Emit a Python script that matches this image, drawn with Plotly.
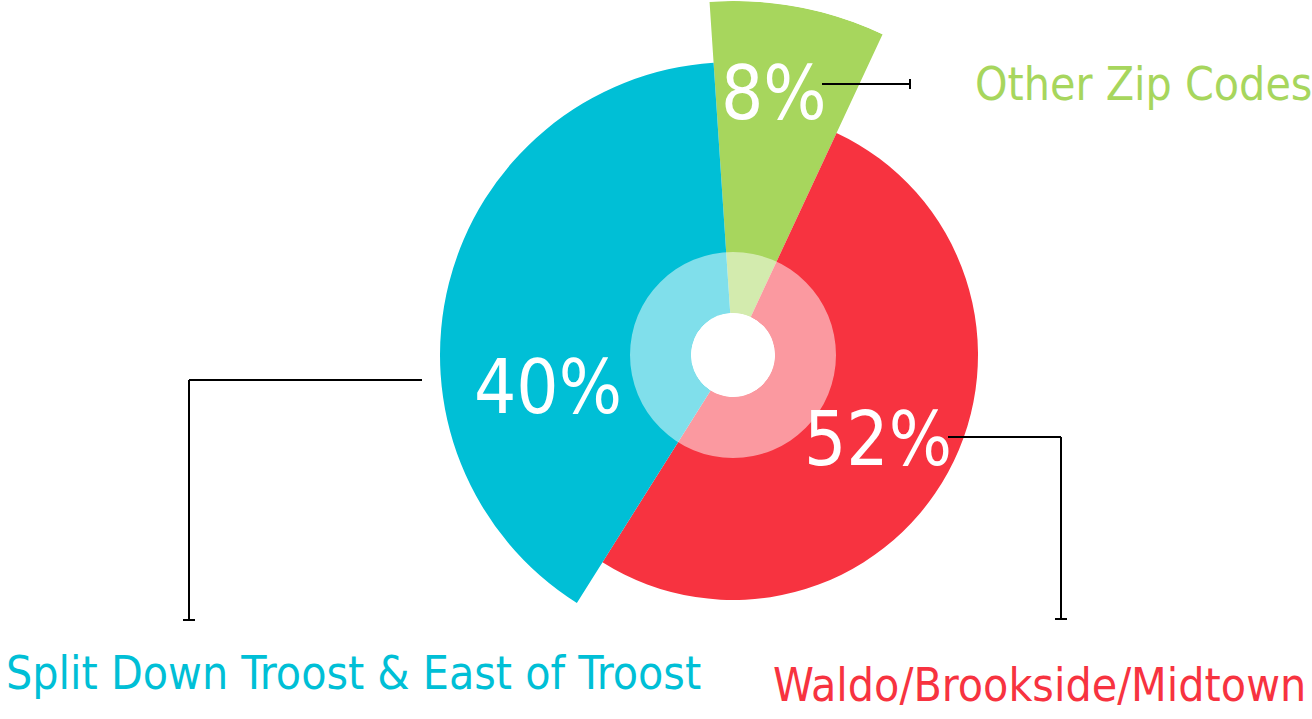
import plotly.graph_objects as go

# ---- data ----
categories = ["Other Zip Codes", "Waldo/Brookside/Midtown", "Split Down Troost & East of Troost"]
percent_values = [8, 52, 40]
pct_labels = ["8%", "52%", "40%"]

# ---- styling ----
colors = ["#a7d65d", "#f73340", "#00bfd6"]
outer_radius_px = [354, 245, 293]   # visual radius of each slice
hole_px = 42
ring_px = 103
start_angle = -3.8  # degrees clockwise from top

W, H = 1312, 719
cx, cy, R = 733, 355, 354

thetas, widths = [], []
acc = start_angle
for v in percent_values:
    w = v / 100 * 360
    thetas.append(acc + w / 2)
    widths.append(w)
    acc += w

fig = go.Figure()
for cat, th, w, rpx, col in zip(categories, thetas, widths, outer_radius_px, colors):
    fig.add_trace(go.Barpolar(
        theta=[th], width=[w], r=[rpx - hole_px], name=cat,
        marker=dict(color=col, line=dict(width=0)), hoverinfo="name",
    ))
# translucent ring
fig.add_trace(go.Barpolar(
    theta=[180], width=[360], r=[ring_px - hole_px], base=0,
    marker=dict(color="rgba(255,255,255,0.5)", line=dict(width=0)), hoverinfo="skip",
))

def px(x):
    return x / W

def py(y):
    return 1 - y / H

fig.update_layout(
    width=W, height=H,
    margin=dict(l=0, r=0, t=0, b=0),
    paper_bgcolor="white",
    showlegend=False,
    polar=dict(
        domain=dict(x=[px(cx - R), px(cx + R)], y=[py(cy + R), py(cy - R)]),
        hole=hole_px / R,
        bgcolor="rgba(0,0,0,0)",
        angularaxis=dict(visible=False, direction="clockwise", rotation=90),
        radialaxis=dict(visible=False, range=[0, R - hole_px]),
        barmode="overlay",
    ),
)

FONT = "Liberation Sans Narrow, DejaVu Sans Condensed, Roboto Condensed, Liberation Sans, sans-serif"

# percentage labels
pct_pos = [(774, 93), (878, 439), (548, 387)]
for lab, (x, y) in zip(pct_labels, pct_pos):
    fig.add_annotation(x=px(x), y=py(y), xref="paper", yref="paper", text=lab,
                       showarrow=False, xanchor="center", yanchor="middle",
                       font=dict(family=FONT, size=74, color="white", weight=300))

# category labels
cat_pos = [(973, 84, "left"), (1308, 685, "right"), (4, 673, "left")]
for cat, col, (x, y, anc) in zip(categories, colors, cat_pos):
    fig.add_annotation(x=px(x), y=py(y), xref="paper", yref="paper", text=cat,
                       showarrow=False, xanchor=anc, yanchor="middle",
                       font=dict(family=FONT, size=46, color=col, weight=300))

# connectors
segments = [
    ((822, 84), (910, 84)), ((910, 79), (910, 89)),
    ((948, 437), (1061, 437)), ((1061, 437), (1061, 619)), ((1055, 619), (1067, 619)),
    ((422, 380), (189, 380)), ((189, 380), (189, 620)), ((183, 620), (195, 620)),
]
for (x0, y0), (x1, y1) in segments:
    fig.add_shape(type="line", xref="paper", yref="paper",
                  x0=px(x0), y0=py(y0), x1=px(x1), y1=py(y1),
                  line=dict(color="black", width=2))

fig.write_html("out.html", config={"displayModeBar": False},
               post_script="document.body.style.margin='0';")
